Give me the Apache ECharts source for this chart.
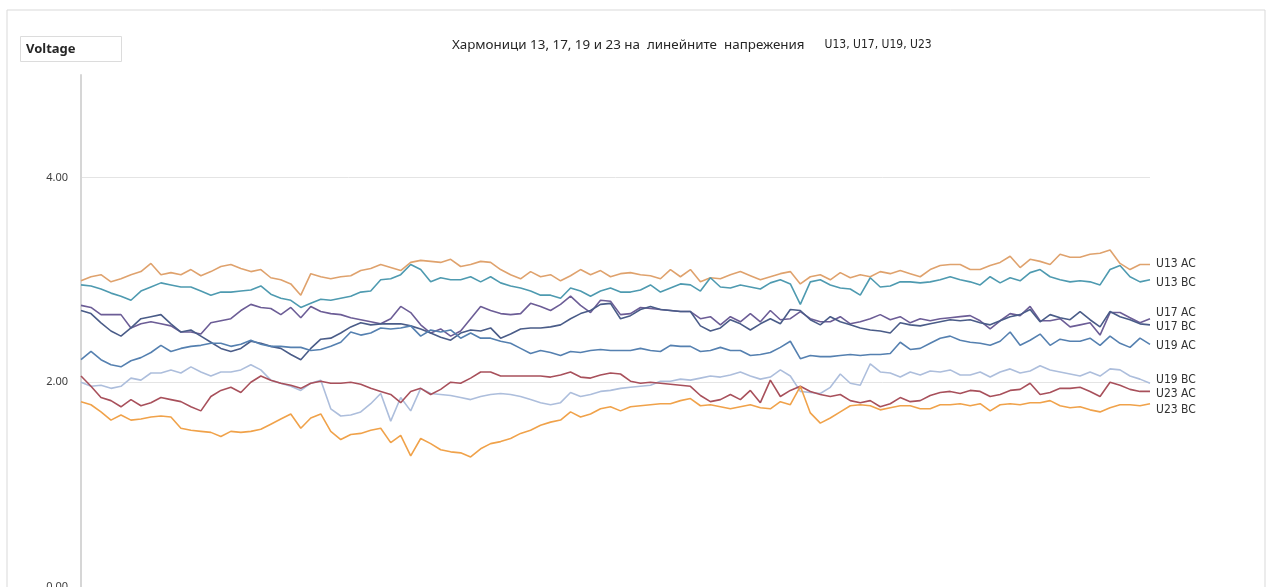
<!DOCTYPE html>
<html>
<head>
<meta charset="utf-8">
<script src="https://cdn.jsdelivr.net/npm/echarts@6/dist/echarts.min.js"></script>
<style>
html,body{margin:0;padding:0;background:#fff;}
#chart{width:1266px;height:587px;}
</style>
</head>
<body>
<div id="chart"></div>
<script>
// ---- data ----
const titleMain = 'Хармоници 13, 17, 19 и 23 на  линейните  напрежения';
const titleSub = 'U13, U17, U19, U23';
const yAxisName = 'Voltage';
const yTicks = [0, 2, 4];

const seriesNames = ['U13 AC', 'U13 BC', 'U17 AC', 'U17 BC', 'U19 AC', 'U19 BC', 'U23 AC', 'U23 BC'];

const u13AC = [
  2.99, 3.03, 3.05, 2.98, 3.01, 3.05, 3.08, 3.16, 3.05, 3.07,
  3.05, 3.10, 3.04, 3.08, 3.13, 3.15, 3.11, 3.08, 3.10, 3.02,
  3.00, 2.96, 2.85, 3.06, 3.03, 3.01, 3.03, 3.04, 3.09, 3.11,
  3.15, 3.12, 3.09, 3.17, 3.19, 3.18, 3.17, 3.20, 3.13, 3.15,
  3.18, 3.17, 3.10, 3.05, 3.01, 3.08, 3.03, 3.05, 2.99, 3.04,
  3.10, 3.05, 3.09, 3.03, 3.06, 3.07, 3.05, 3.04, 3.01, 3.10,
  3.03, 3.10, 2.98, 3.02, 3.01, 3.05, 3.08, 3.04, 3.00, 3.03,
  3.06, 3.08, 2.96, 3.03, 3.05, 3.00, 3.07, 3.02, 3.05, 3.03,
  3.08, 3.06, 3.09, 3.06, 3.03, 3.10, 3.14, 3.15, 3.15, 3.10,
  3.10, 3.14, 3.17, 3.23, 3.12, 3.20, 3.18, 3.15, 3.25, 3.22,
  3.22, 3.25, 3.26, 3.29, 3.16, 3.10, 3.15, 3.15
];
const u13BC = [
  2.95, 2.94, 2.91, 2.87, 2.84, 2.80, 2.89, 2.93, 2.97, 2.95,
  2.93, 2.93, 2.89, 2.85, 2.88, 2.88, 2.89, 2.90, 2.94, 2.86,
  2.82, 2.80, 2.73, 2.77, 2.81, 2.80, 2.82, 2.84, 2.88, 2.89,
  3.00, 3.01, 3.05, 3.15, 3.10, 2.98, 3.02, 3.00, 3.00, 3.03,
  2.98, 3.03, 2.97, 2.94, 2.92, 2.89, 2.85, 2.85, 2.82, 2.92,
  2.89, 2.84, 2.89, 2.92, 2.88, 2.88, 2.90, 2.95, 2.88, 2.92,
  2.96, 2.95, 2.89, 3.02, 2.93, 2.92, 2.95, 2.93, 2.91, 2.97,
  3.00, 2.96, 2.76, 2.98, 3.00, 2.95, 2.92, 2.91, 2.85, 3.02,
  2.93, 2.94, 2.98, 2.98, 2.97, 2.98, 3.00, 3.03, 3.00, 2.98,
  2.95, 3.03, 2.97, 3.02, 2.99, 3.07, 3.10, 3.03, 3.00, 2.98,
  2.99, 2.98, 2.95, 3.10, 3.14, 3.03, 2.98, 3.00
];
const u17AC = [
  2.75, 2.73, 2.66, 2.66, 2.66, 2.53, 2.57, 2.59, 2.57, 2.55,
  2.49, 2.49, 2.47, 2.58, 2.60, 2.62, 2.70, 2.76, 2.73, 2.72,
  2.66, 2.73, 2.63, 2.74, 2.69, 2.67, 2.66, 2.63, 2.61, 2.59,
  2.57, 2.62, 2.74, 2.68, 2.56, 2.48, 2.52, 2.45, 2.50, 2.62,
  2.74, 2.70, 2.67, 2.66, 2.67, 2.77, 2.74, 2.70, 2.76, 2.84,
  2.75, 2.68, 2.80, 2.79, 2.66, 2.67, 2.73, 2.72, 2.71, 2.70,
  2.69, 2.69, 2.62, 2.64, 2.56, 2.64, 2.59, 2.67, 2.59, 2.70,
  2.61, 2.62, 2.69, 2.62, 2.59, 2.59, 2.64, 2.57, 2.59, 2.62,
  2.66, 2.61, 2.64, 2.58, 2.62, 2.60, 2.62, 2.63, 2.64, 2.65,
  2.60, 2.52, 2.60, 2.67, 2.65, 2.74, 2.60, 2.60, 2.62, 2.54,
  2.56, 2.58, 2.46, 2.68, 2.68, 2.63, 2.58, 2.62
];
const u17BC = [
  2.70, 2.67, 2.58, 2.50, 2.45, 2.53, 2.62, 2.64, 2.66, 2.57,
  2.49, 2.51, 2.45, 2.39, 2.33, 2.30, 2.33, 2.40, 2.38, 2.35,
  2.33, 2.27, 2.22, 2.33, 2.42, 2.43, 2.48, 2.54, 2.58, 2.56,
  2.57, 2.57, 2.57, 2.55, 2.52, 2.48, 2.44, 2.41, 2.48, 2.51,
  2.50, 2.53, 2.43, 2.47, 2.52, 2.53, 2.53, 2.54, 2.56, 2.62,
  2.67, 2.70, 2.76, 2.77, 2.62, 2.65, 2.71, 2.74, 2.71, 2.70,
  2.69, 2.69, 2.55, 2.50, 2.53, 2.61, 2.57, 2.51, 2.57, 2.62,
  2.57, 2.71, 2.70, 2.61, 2.56, 2.64, 2.59, 2.56, 2.53, 2.51,
  2.50, 2.48, 2.58, 2.56, 2.55, 2.57, 2.59, 2.61, 2.60, 2.61,
  2.58, 2.56, 2.60, 2.64, 2.66, 2.71, 2.59, 2.66, 2.63, 2.61,
  2.69, 2.61, 2.54, 2.69, 2.64, 2.61, 2.57, 2.56
];
const u19AC = [
  2.22, 2.30, 2.22, 2.17, 2.15, 2.21, 2.24, 2.29, 2.36, 2.30,
  2.33, 2.35, 2.36, 2.38, 2.38, 2.35, 2.37, 2.41, 2.37, 2.35,
  2.35, 2.34, 2.34, 2.31, 2.32, 2.35, 2.39, 2.49, 2.46, 2.48,
  2.53, 2.52, 2.53, 2.55, 2.45, 2.51, 2.49, 2.51, 2.43, 2.48,
  2.43, 2.43, 2.40, 2.38, 2.33, 2.28, 2.31, 2.29, 2.26, 2.30,
  2.29, 2.31, 2.32, 2.31, 2.31, 2.31, 2.33, 2.31, 2.30, 2.36,
  2.35, 2.35, 2.30, 2.31, 2.34, 2.31, 2.31, 2.26, 2.27, 2.29,
  2.34, 2.40, 2.23, 2.26, 2.25, 2.25, 2.26, 2.27, 2.26, 2.27,
  2.27, 2.28, 2.39, 2.32, 2.33, 2.38, 2.43, 2.45, 2.41, 2.39,
  2.38, 2.36, 2.40, 2.49, 2.36, 2.41, 2.47, 2.36, 2.42, 2.40,
  2.40, 2.43, 2.36, 2.45, 2.38, 2.34, 2.43, 2.37
];
const u19BC = [
  2.00, 1.96, 1.97, 1.94, 1.96, 2.04, 2.02, 2.09, 2.09, 2.12,
  2.09, 2.15, 2.10, 2.06, 2.10, 2.10, 2.12, 2.17, 2.12, 2.02,
  1.99, 1.96, 1.92, 1.99, 2.02, 1.74, 1.67, 1.68, 1.71, 1.79,
  1.89, 1.62, 1.85, 1.72, 1.94, 1.89, 1.88, 1.87, 1.85, 1.83,
  1.86, 1.88, 1.89, 1.88, 1.86, 1.83, 1.80, 1.78, 1.80, 1.90,
  1.86, 1.88, 1.91, 1.92, 1.94, 1.95, 1.96, 1.97, 2.01, 2.01,
  2.03, 2.02, 2.04, 2.06, 2.05, 2.07, 2.10, 2.06, 2.03, 2.05,
  2.12, 2.06, 1.91, 1.90, 1.89, 1.95, 2.08, 1.99, 1.97, 2.18,
  2.10, 2.09, 2.05, 2.10, 2.07, 2.11, 2.10, 2.12, 2.07, 2.07,
  2.10, 2.05, 2.10, 2.13, 2.09, 2.11, 2.16, 2.12, 2.10, 2.08,
  2.06, 2.10, 2.06, 2.13, 2.12, 2.06, 2.03, 1.99
];
const u23AC = [
  2.06, 1.96, 1.85, 1.82, 1.76, 1.83, 1.77, 1.80, 1.85, 1.83,
  1.81, 1.76, 1.72, 1.86, 1.92, 1.95, 1.90, 2.00, 2.06, 2.02,
  1.99, 1.97, 1.94, 1.99, 2.01, 1.99, 1.99, 2.00, 1.98, 1.94,
  1.91, 1.88, 1.80, 1.91, 1.94, 1.88, 1.93, 2.00, 1.99, 2.04,
  2.10, 2.10, 2.06, 2.06, 2.06, 2.06, 2.06, 2.05, 2.07, 2.10,
  2.05, 2.04, 2.07, 2.09, 2.08, 2.01, 1.99, 2.00, 1.99, 1.98,
  1.97, 1.96, 1.87, 1.81, 1.83, 1.88, 1.83, 1.92, 1.80, 2.02,
  1.86, 1.92, 1.96, 1.91, 1.88, 1.86, 1.88, 1.82, 1.80, 1.82,
  1.76, 1.79, 1.85, 1.81, 1.82, 1.87, 1.90, 1.91, 1.89, 1.92,
  1.91, 1.86, 1.88, 1.92, 1.93, 1.99, 1.88, 1.90, 1.94, 1.94,
  1.95, 1.91, 1.86, 2.00, 1.97, 1.93, 1.91, 1.91
];
const u23BC = [
  1.81, 1.78, 1.71, 1.63, 1.68, 1.63, 1.64, 1.66, 1.67, 1.66,
  1.55, 1.53, 1.52, 1.51, 1.47, 1.52, 1.51, 1.52, 1.54, 1.59,
  1.64, 1.69, 1.55, 1.65, 1.69, 1.52, 1.44, 1.49, 1.50, 1.53,
  1.55, 1.41, 1.48, 1.28, 1.45, 1.40, 1.34, 1.32, 1.31, 1.27,
  1.35, 1.40, 1.42, 1.45, 1.50, 1.53, 1.58, 1.61, 1.63, 1.71,
  1.66, 1.69, 1.74, 1.76, 1.72, 1.76, 1.77, 1.78, 1.79, 1.79,
  1.82, 1.84, 1.77, 1.78, 1.76, 1.74, 1.76, 1.78, 1.75, 1.74,
  1.81, 1.78, 1.96, 1.70, 1.60, 1.65, 1.71, 1.77, 1.78, 1.77,
  1.73, 1.75, 1.77, 1.77, 1.74, 1.74, 1.78, 1.78, 1.79, 1.77,
  1.79, 1.72, 1.78, 1.79, 1.78, 1.80, 1.80, 1.82, 1.77, 1.75,
  1.76, 1.73, 1.71, 1.75, 1.78, 1.78, 1.77, 1.79
];

const seriesValues = [u13AC, u13BC, u17AC, u17BC, u19AC, u19BC, u23AC, u23BC];
const seriesColors = ['#DFA26D', '#4E9AB0', '#6C5D96', '#4A5C88', '#5580B0', '#ADBEDC', '#A8505B', '#F0A24A'];
const labelOffsets = [[0, -1], [0, 3], [0, -6], [0, 2], [0, 2], [0, -3], [0, 2], [0, 6]];

// category index labels (samples)
const categories = u13AC.map((_, i) => String(i + 1));

const chart = echarts.init(document.getElementById('chart'), null, {renderer: 'canvas'});

const narrow = "'Liberation Sans Narrow', 'Arial Narrow', 'DejaVu Sans Condensed', sans-serif";

chart.setOption({
  animation: false,
  backgroundColor: '#ffffff',
  title: [
    {
      text: '{a|' + titleMain + '}    {b|' + titleSub + '}',
      left: 447,
      top: 31,
      textStyle: {
        fontWeight: 'normal',
        rich: {
          a: {fontFamily: "'Noto Sans', sans-serif", fontSize: 13.4, fontWeight: 'normal', color: '#262626'},
          b: {fontFamily: narrow, fontSize: 12, fontWeight: 'normal', color: '#262626'}
        }
      }
    },
    {
      text: yAxisName,
      left: 20,
      top: 36,
      padding: [6, 46, 6, 6],
      borderColor: '#dcdcdc',
      borderWidth: 1,
      textStyle: {fontFamily: "'Noto Sans', sans-serif", fontSize: 13, fontWeight: 'bold', color: '#262626', lineHeight: 14}
    }
  ],
  graphic: [
    {
      type: 'rect',
      shape: {x: 7, y: 10, width: 1258, height: 600},
      style: {fill: 'none', stroke: '#d9d9d9', lineWidth: 1},
      silent: true,
      z: -1
    }
  ],
  grid: {left: 81, right: 116, top: 75, bottom: 0, containLabel: false, outerBoundsMode: 'none'},
  xAxis: {
    type: 'category',
    data: categories,
    boundaryGap: false,
    axisLine: {show: false},
    axisTick: {show: false},
    axisLabel: {show: false},
    splitLine: {show: false}
  },
  yAxis: {
    type: 'value',
    min: 0,
    max: 5,
    interval: 2,
    axisLine: {show: true, lineStyle: {color: '#d6d6d6', width: 2}},
    axisTick: {show: false},
    axisLabel: {
      margin: 13,
      showMaxLabel: false,
      verticalAlign: 'middle',
      color: '#404040',
      fontFamily: "'Noto Sans', sans-serif",
      fontSize: 11,
      formatter: v => (yTicks.indexOf(v) >= 0 ? v.toFixed(2) : '')
    },
    splitLine: {show: true, showMaxLine: false, lineStyle: {color: '#e4e4e4', width: 1}}
  },
  series: seriesNames.map((name, k) => ({
    name: name,
    type: 'line',
    data: seriesValues[k],
    symbol: 'none',
    smooth: false,
    color: seriesColors[k],
    lineStyle: {width: 1.6, color: seriesColors[k]},
    endLabel: {
      show: true,
      formatter: '{a}',
      distance: 6,
      offset: labelOffsets[k],
      color: '#333333',
      fontFamily: narrow,
      fontSize: 12
    }
  }))
});
</script>
</body>
</html>
